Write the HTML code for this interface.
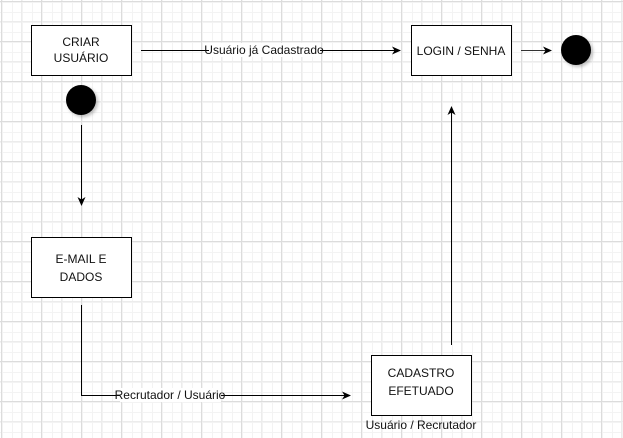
<!DOCTYPE html>
<html><head><meta charset="utf-8"><style>
html,body{margin:0;padding:0;background:#fff;}
svg{display:block;}
text{font-family:"Liberation Sans",Arial,sans-serif;font-size:12px;fill:#111;}
</style></head><body>
<svg width="623" height="438" viewBox="0 0 623 438" xmlns="http://www.w3.org/2000/svg">
<defs>
<pattern id="g10" width="10" height="10" patternUnits="userSpaceOnUse" x="1" y="1">
<path d="M0 0.5H10M0.5 0V10" stroke="#f3f3f3" stroke-width="1" fill="none"/>
</pattern>
<pattern id="g40" width="40" height="40" patternUnits="userSpaceOnUse" x="1" y="1">
<rect width="40" height="40" fill="url(#g10)"/>
<path d="M0 20.5H40M20.5 0V40" stroke="#ececec" stroke-width="1" fill="none"/>
<path d="M0 0.5H40M0.5 0V40" stroke="#dcdcdc" stroke-width="1" fill="none"/>
</pattern>
<marker id="ar" markerWidth="10" markerHeight="10" refX="8" refY="5" orient="auto" markerUnits="userSpaceOnUse">
<path d="M0 1 L9 5 L0 9 L2.5 5 Z" fill="#000"/>
</marker>
<filter id="sh" x="-30%" y="-30%" width="170%" height="170%"><feDropShadow dx="2" dy="2" stdDeviation="1.5" flood-color="#000" flood-opacity="0.25"/></filter>
</defs>
<rect width="623" height="438" fill="url(#g40)"/>

<!-- boxes -->
<rect x="31.5" y="25.5" width="100" height="50" fill="#fff" stroke="#000"/>
<text x="81" y="46" text-anchor="middle">CRIAR</text>
<text x="81" y="62" text-anchor="middle">USUÁRIO</text>

<rect x="411.5" y="25.5" width="100" height="50" fill="#fff" stroke="#000"/>
<text x="461" y="55" text-anchor="middle">LOGIN / SENHA</text>

<rect x="31.5" y="237.5" width="100" height="60" fill="#fff" stroke="#000"/>
<text x="81" y="263" text-anchor="middle">E-MAIL E</text>
<text x="81" y="281" text-anchor="middle">DADOS</text>

<rect x="371.5" y="355.5" width="100" height="60" fill="#fff" stroke="#000"/>
<text x="421" y="377" text-anchor="middle">CADASTRO</text>
<text x="421" y="395" text-anchor="middle">EFETUADO</text>
<text x="421" y="429" text-anchor="middle">Usuário / Recrutador</text>

<!-- circles -->
<circle cx="81" cy="100" r="15" fill="#000" filter="url(#sh)"/>
<circle cx="576" cy="50" r="15" fill="#000" filter="url(#sh)"/>

<!-- connectors -->
<line x1="81.5" y1="125" x2="81.5" y2="205" stroke="#000" marker-end="url(#ar)"/>
<line x1="141" y1="50.5" x2="400" y2="50.5" stroke="#000" marker-end="url(#ar)"/>
<rect x="209" y="43" width="111" height="14" fill="#fff"/>
<text x="264" y="54" text-anchor="middle">Usuário já Cadastrado</text>
<line x1="521" y1="50.5" x2="551" y2="50.5" stroke="#333" marker-end="url(#ar)"/>
<line x1="451.5" y1="345" x2="451.5" y2="107" stroke="#000" marker-end="url(#ar)"/>
<polyline points="81.5,305 81.5,395.5 350,395.5" fill="none" stroke="#000" marker-end="url(#ar)"/>
<rect x="120" y="388" width="101" height="14" fill="#fff"/>
<text x="170" y="399" text-anchor="middle">Recrutador / Usuário</text>
</svg>
</body></html>
